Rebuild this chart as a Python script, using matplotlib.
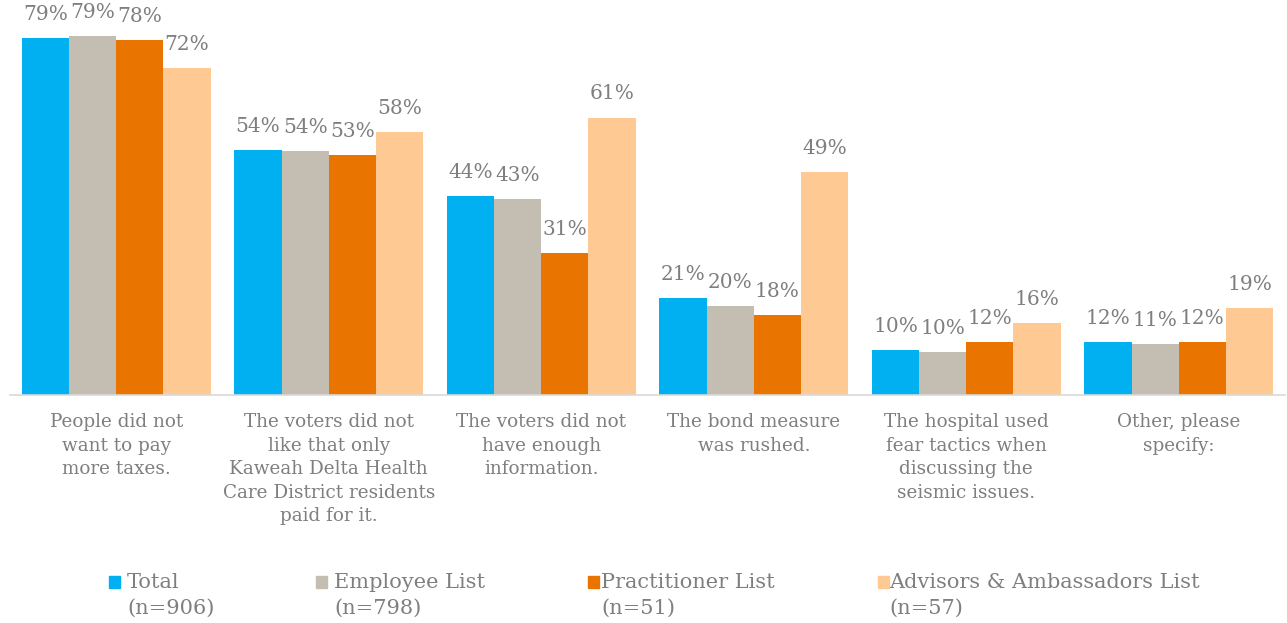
import matplotlib
matplotlib.use('Agg')
import matplotlib.pyplot as plt
import numpy as np
from matplotlib.patches import Rectangle

categories = [
    'People did not\nwant to pay\nmore taxes.',
    'The voters did not\nlike that only\nKaweah Delta Health\nCare District residents\npaid for it.',
    'The voters did not\nhave enough\ninformation.',
    'The bond measure\nwas rushed.',
    'The hospital used\nfear tactics when\ndiscussing the\nseismic issues.',
    'Other, please\nspecify:',
]
series_names = ['Total', 'Employee List', 'Practitioner List', 'Advisors & Ambassadors List']
series_n = ['(n=906)', '(n=798)', '(n=51)', '(n=57)']
total = [79.0, 54.2, 44.0, 21.4, 10.0, 11.7]
employee = [79.4, 54.0, 43.4, 19.7, 9.5, 11.3]
practitioner = [78.5, 53.1, 31.4, 17.7, 11.7, 11.7]
advisors = [72.3, 58.2, 61.4, 49.3, 15.9, 19.2]
colors = ['#00B0F0', '#C4BDB2', '#E97400', '#FFC993']

TEXT = '#7F7F7F'
plt.rcParams['font.family'] = 'DejaVu Serif'

W, H = 1287, 623
fig = plt.figure(figsize=(W / 100, H / 100), dpi=100)
ax = fig.add_axes([10 / W, 228 / H, 1275 / W, 395 / H])

x = np.arange(len(categories))
width = 0.222
data = [total, employee, practitioner, advisors]
for i, (vals, c) in enumerate(zip(data, colors)):
    pos = x + (i - 1.5) * width
    ax.bar(pos, vals, width=width, color=c, edgecolor='none')
    for px, v in zip(pos, vals):
        ax.annotate(f'{v:.0f}%', (px, v), xytext=(0, 17), textcoords='offset points',
                    ha='center', va='center', color=TEXT, fontsize=14.5)

ax.set_xlim(-0.5, len(categories) - 0.5)
ax.set_ylim(0, 87.4)
for s in ['top', 'right', 'left']:
    ax.spines[s].set_visible(False)
ax.spines['bottom'].set_color('#D9D9D9')
ax.spines['bottom'].set_linewidth(1.2)
ax.set_yticks([])
ax.set_xticks(x)
ax.set_xticklabels(categories, color=TEXT, fontsize=13.2, linespacing=1.4)
ax.tick_params(axis='x', length=0, pad=13)

# legend drawn by hand so the square sits next to the first text line
leg_sq = [109, 316, 588, 878]
leg_tx = [127, 334, 601, 889]
for sx, tx, name, n, c in zip(leg_sq, leg_tx, series_names, series_n, colors):
    fig.patches.append(Rectangle((sx / W, 1 - 588 / H), 11 / W, 12 / H,
                                 transform=fig.transFigure, color=c))
    fig.text(tx / W, 1 - 583 / H, name, ha='left', va='center', color=TEXT, fontsize=15)
    fig.text(tx / W, 1 - 608 / H, n, ha='left', va='center', color=TEXT, fontsize=15)

fig.savefig('out.png', dpi=100)
